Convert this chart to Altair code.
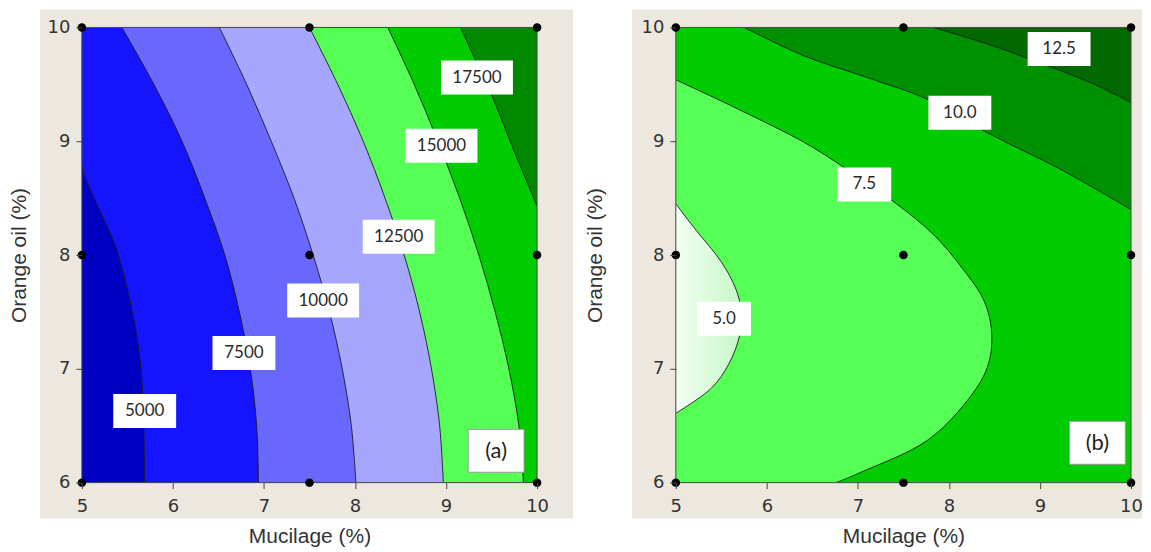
import altair as alt
import pandas as pd

# ---------------- data ----------------
x_ticks = [5, 6, 7, 8, 9, 10]
y_ticks = [6, 7, 8, 9, 10]
design_x = [5, 5, 5, 7.5, 7.5, 7.5, 10, 10, 10]
design_y = [6, 8, 10, 6, 8, 10, 6, 8, 10]

# (a) contour lines (x read at each y, bottom -> top)
a5000_y = [6.0, 6.5, 7.0, 7.4, 7.8, 8.1, 8.35, 8.56, 8.77]
a5000_x = [5.69, 5.68, 5.65, 5.58, 5.47, 5.36, 5.22, 5.10, 5.0]
a_grid_y = [6.0, 6.5, 7.0, 7.5, 8.0, 8.5, 9.0, 9.5, 10.0]
a7500_x = [6.94, 6.92, 6.85, 6.73, 6.57, 6.35, 6.10, 5.79, 5.44]
a10000_x = [8.01, 7.96, 7.86, 7.72, 7.54, 7.33, 7.08, 6.81, 6.51]
a12500_x = [8.97, 8.93, 8.84, 8.71, 8.54, 8.33, 8.09, 7.81, 7.50]
a15000_x = [9.85, 9.80, 9.69, 9.54, 9.36, 9.15, 8.91, 8.65, 8.36]
a17500_y = [8.43, 8.93, 9.37, 9.7, 10.0]
a17500_x = [10.0, 9.74, 9.52, 9.33, 9.16]

a_levels = ["5000", "7500", "10000", "12500", "15000", "17500"]
a_label_x = [5.69, 6.78, 7.65, 8.48, 8.95, 9.34]
a_label_y = [6.63, 7.14, 7.60, 8.16, 8.96, 9.56]

# (b) contour lines
b50_x = [5.0, 5.39, 5.58, 5.70, 5.72, 5.66, 5.50, 5.21, 5.0]
b50_y = [6.61, 6.83, 7.04, 7.29, 7.5, 7.7, 7.94, 8.23, 8.45]
b75_x = [6.76, 7.03, 7.76, 8.20, 8.42, 8.47, 8.39, 8.15, 7.83, 7.39, 6.81, 6.41, 5.69, 5.0]
b75_y = [6.0, 6.09, 6.37, 6.72, 7.01, 7.30, 7.59, 7.88, 8.18, 8.47, 8.79, 8.99, 9.28, 9.54]
b100_x = [5.75, 6.41, 7.14, 7.76, 8.48, 9.21, 10.0]
b100_y = [10.0, 9.75, 9.55, 9.37, 9.05, 8.76, 8.40]
b125_x = [7.83, 8.48, 8.89, 9.54, 10.0]
b125_y = [10.0, 9.84, 9.72, 9.52, 9.34]

b_levels = ["5.0", "7.5", "10.0", "12.5"]
b_label_x = [5.53, 7.07, 8.12, 9.21]
b_label_y = [7.44, 8.62, 9.25, 9.81]

panel_tags = ["(a)", "(b)"]
tag_x = [9.55, 9.63]
tag_y = [6.28, 6.35]

# ---------------- style ----------------
W, H = 456, 456
BEIGE = "#ECE8DF"
CURVE = "catmull-rom"
XS = alt.Scale(domain=[x_ticks[0], x_ticks[-1]], nice=False, zero=False)
YS = alt.Scale(domain=[y_ticks[0], y_ticks[-1]], nice=False, zero=False)
one = pd.DataFrame({"k": [0]})


def make_axes(ytitle_x):
    xa = alt.Axis(values=x_ticks, format="d", title="Mucilage (%)", grid=False, domain=False,
                  tickSize=6, tickColor="#444", labelFont="DejaVu Sans", labelFontSize=18,
                  labelColor="#333", labelPadding=9, labelFlush=False, labelOverlap=False,
                  titleFont="Liberation Sans", titleFontSize=21, titleFontWeight="normal",
                  titleColor="#333", titleY=60, titleBaseline="alphabetic", zindex=1)
    ya = alt.Axis(values=y_ticks, format="d", title="Orange oil (%)", grid=False, domain=False,
                  tickSize=6, tickColor="#444", labelFont="DejaVu Sans", labelFontSize=18,
                  labelColor="#333", labelPadding=6, labelFlush=False, labelOverlap=False,
                  titleFont="Liberation Sans", titleFontSize=21, titleFontWeight="normal",
                  titleColor="#333", titleX=ytitle_x, titleAngle=270, titleBaseline="middle",
                  zindex=1)
    return xa, ya


def box_path(w, h):
    r = h / w
    return f"M-1,{-r:.4f}L1,{-r:.4f}L1,{r:.4f}L-1,{r:.4f}Z"


def panel(bands_bg, band_layers, lines, labels, tag, ytitle_x, beige_l, beige_r):
    xa, ya = make_axes(ytitle_x)

    def X(f):
        return alt.X(f"{f}:Q", scale=XS, axis=xa, stack=None)

    def Y(f):
        return alt.Y(f"{f}:Q", scale=YS, axis=ya, stack=None)

    layers = []
    layers.append(alt.Chart(one).mark_rect(color=BEIGE).encode(
        x=alt.value(beige_l), x2=alt.value(W + beige_r), y=alt.value(-18), y2=alt.value(H + 36)))
    full = pd.DataFrame({"x0": [x_ticks[0]], "x1": [x_ticks[-1]], "y0": [y_ticks[0]], "y1": [y_ticks[-1]]})
    layers.append(alt.Chart(full).mark_rect(color=bands_bg).encode(
        x=X("x0"), x2="x1", y=Y("y0"), y2="y1"))
    for xs, ys, edge, orient, fill in band_layers:
        df = pd.DataFrame({"x": xs, "y": ys, "e": [edge] * len(xs)})
        if orient == "horizontal":
            layers.append(alt.Chart(df).mark_area(orient="horizontal", color=fill, opacity=1,
                                                  interpolate=CURVE, clip=True).encode(
                y=Y("y"), x=X("x"), x2="e"))
        else:
            layers.append(alt.Chart(df).mark_area(orient="vertical", color=fill, opacity=1,
                                                  interpolate=CURVE, clip=True).encode(
                x=X("x"), y=Y("y"), y2="e"))
    for xs, ys in lines:
        df = pd.DataFrame({"x": xs, "y": ys, "i": list(range(len(xs)))})
        layers.append(alt.Chart(df).mark_line(color="#1c1c1c", strokeWidth=0.9,
                                              interpolate=CURVE, clip=True).encode(
            x=X("x"), y=Y("y"), order="i:Q"))
    # plot border
    layers.append(alt.Chart(one).mark_rect(filled=False, stroke="#4a4a4a", strokeWidth=1).encode(
        x=alt.value(0), x2=alt.value(W), y=alt.value(0), y2=alt.value(H)))
    # design points
    pts = pd.DataFrame({"x": design_x, "y": design_y})
    layers.append(alt.Chart(pts).mark_circle(size=72, color="black", opacity=1).encode(
        x=X("x"), y=Y("y")))
    # contour labels
    lx, ly, lt = labels
    w_list = [27 + 9 * len(t) for t in lt]
    ldf = pd.DataFrame({"x": lx, "y": ly, "t": lt,
                        "p": [box_path(w, 34) for w in w_list],
                        "s": [w * w for w in w_list]})
    layers.append(alt.Chart(ldf).mark_point(filled=True, fill="white", opacity=1, strokeWidth=0).encode(
        x=X("x"), y=Y("y"), shape=alt.Shape("p:N", scale=None), size=alt.Size("s:Q", scale=None)))
    layers.append(alt.Chart(ldf).mark_text(font="Lato", fontSize=17, color="#2a2a2a").encode(
        x=X("x"), y=Y("y"), text="t:N"))
    # panel tag
    tx, ty, tt = tag
    tdf = pd.DataFrame({"x": [tx], "y": [ty], "t": [tt], "p": [box_path(56, 43)], "s": [56 * 56]})
    layers.append(alt.Chart(tdf).mark_point(filled=True, fill="white", opacity=1, stroke="#9a9a9a",
                                            strokeWidth=1).encode(
        x=X("x"), y=Y("y"), shape=alt.Shape("p:N", scale=None), size=alt.Size("s:Q", scale=None)))
    layers.append(alt.Chart(tdf).mark_text(font="Lato", fontSize=22, color="#222").encode(
        x=X("x"), y=Y("y"), text="t:N"))
    return alt.layer(*layers).properties(width=W, height=H)


# panel (a)
a_bands = [
    (a5000_x + [5.0], a5000_y + [10.0], 10.0, "horizontal", "#1414FF"),
    (a7500_x, a_grid_y, 10.0, "horizontal", "#6868FF"),
    (a10000_x, a_grid_y, 10.0, "horizontal", "#A6A6FF"),
    (a12500_x, a_grid_y, 10.0, "horizontal", "#55FF55"),
    (a15000_x, a_grid_y, 10.0, "horizontal", "#00CC00"),
    (a17500_x, a17500_y, 10.0, "horizontal", "#008A00"),
]
a_lines = [(a5000_x, a5000_y), (a7500_x, a_grid_y), (a10000_x, a_grid_y),
           (a12500_x, a_grid_y), (a15000_x, a_grid_y), (a17500_x, a17500_y)]
chart_a = panel("#0000C2", a_bands, a_lines, (a_label_x, a_label_y, a_levels),
                (tag_x[0], tag_y[0], panel_tags[0]), -62, -42, 36)

# panel (b)
light = alt.LinearGradient(gradient="linear",
                           stops=[alt.GradientStop(color="#F2FFF2", offset=0),
                                  alt.GradientStop(color="#C6F7C6", offset=1)],
                           x1=0, x2=1, y1=0, y2=0)
b_bands = [
    (b75_x, b75_y, 5.0, "horizontal", "#55FF55"),
    (b50_x, b50_y, 5.0, "horizontal", light),
    (b100_x, b100_y, 10.0, "vertical", "#009100"),
    (b125_x, b125_y, 10.0, "vertical", "#006A00"),
]
b_lines = [(b50_x, b50_y), (b75_x, b75_y), (b100_x, b100_y), (b125_x, b125_y)]
chart_b = panel("#00CC00", b_bands, b_lines, (b_label_x, b_label_y, b_levels),
                (tag_x[1], tag_y[1], panel_tags[1]), -80, -44, 11)

chart = alt.hconcat(chart_a, chart_b, spacing=10).properties(
    padding=0, background="white").configure_view(stroke="transparent")

chart.save("out.html", embed_options={"renderer": "svg", "actions": False})
